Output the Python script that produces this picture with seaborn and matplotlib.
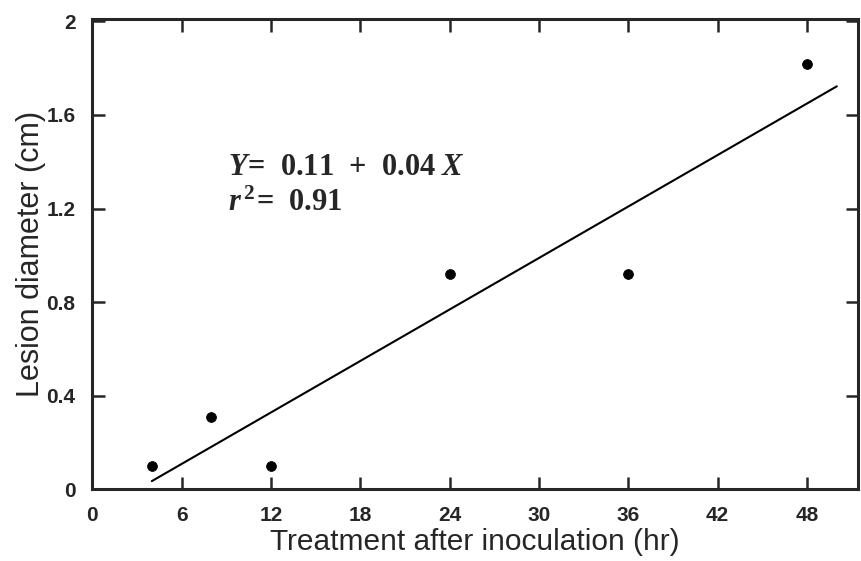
import matplotlib
matplotlib.use("Agg")
import matplotlib.pyplot as plt
import numpy as np
import pandas as pd
import seaborn as sns

# data
hours = [4, 8, 12, 24, 36, 48]
lesion = [0.10, 0.31, 0.10, 0.92, 0.92, 1.82]
fit_range = [4, 50]
xticks = [0, 6, 12, 18, 24, 30, 36, 42, 48]
yticks = [0, 0.4, 0.8, 1.2, 1.6, 2]
ytick_labels = ["0", "0.4", "0.8", "1.2", "1.6", "2"]

sns.set_style("ticks")
plt.rcParams["font.family"] = ["Liberation Sans", "DejaVu Sans"]
plt.rcParams["mathtext.fontset"] = "custom"
plt.rcParams["mathtext.rm"] = "Liberation Serif:bold"
plt.rcParams["mathtext.it"] = "Liberation Serif:italic:bold"
plt.rcParams["mathtext.bf"] = "Liberation Serif:bold"

df = pd.DataFrame({"hours": hours, "lesion": lesion})
slope, intercept = np.polyfit(hours, lesion, 1)
fit = pd.DataFrame({"x": fit_range})
fit["y"] = intercept + slope * fit["x"]

fig = plt.figure(figsize=(8.62, 5.61), dpi=100)
ax = fig.add_axes([0.107, 0.128, 0.888, 0.838])

sns.scatterplot(data=df, x="hours", y="lesion", color="black", s=50,
                edgecolor="black", ax=ax, zorder=3)
sns.lineplot(data=fit, x="x", y="y", color="black", linewidth=1.5, ax=ax)

ax.set_xlim(0, 51.4)
ax.set_ylim(0, 2.01)
ax.set_xticks(xticks)
ax.set_yticks(yticks)
ax.set_yticklabels(ytick_labels)
ax.tick_params(direction="in", length=9, width=1.8, top=True, right=True,
               labelsize=15, pad=12)
for lab in ax.get_xticklabels() + ax.get_yticklabels():
    lab.set_fontweight("bold")
for sp in ax.spines.values():
    sp.set_linewidth(2.2)

ax.set_xlabel("Treatment after inoculation (hr)", fontsize=21.5, labelpad=2)
ax.set_ylabel("Lesion diameter (cm)", fontsize=22, labelpad=0)

ax.text(9.1, 1.343, r"$Y\!=\;\,0.11\;\,+\;\,0.04\;X$", fontsize=22)
ax.text(9.1, 1.19, r"$r^{\,2}\!=\;\,0.91$", fontsize=22)

fig.savefig("out.png", dpi=100)
